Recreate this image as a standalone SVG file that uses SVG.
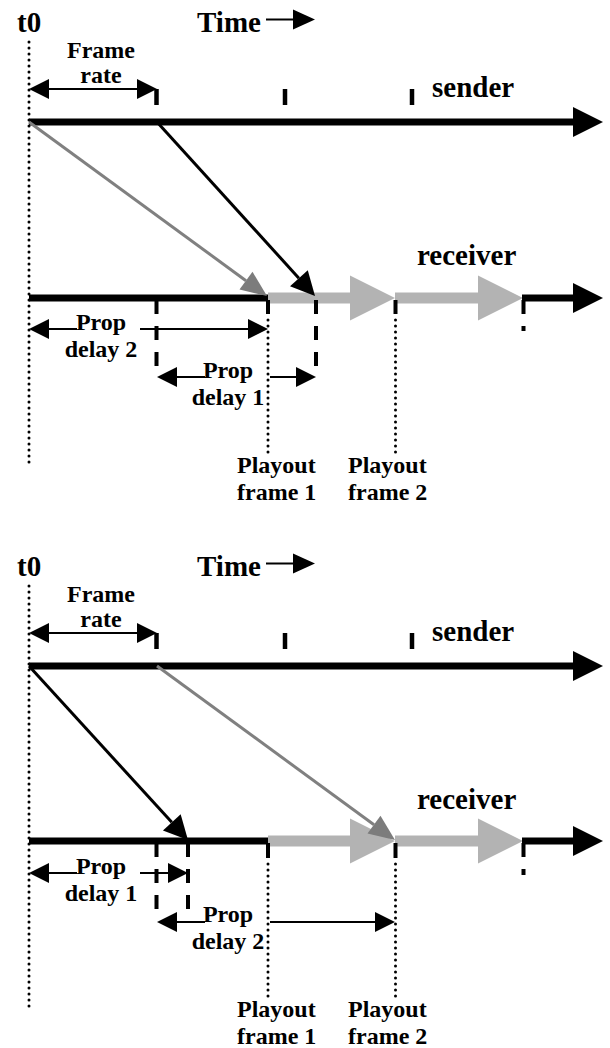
<svg xmlns="http://www.w3.org/2000/svg" width="610" height="1048" viewBox="0 0 610 1048">
<style>
text{font-family:"Liberation Serif","Times New Roman",serif;font-weight:bold;fill:#000}
.big{font-size:29px}
.sm{font-size:24px}
.mid{text-anchor:middle}
.axis{stroke:#000;stroke-width:7;fill:none}
.bar{stroke:#b3b3b3;stroke-width:11;fill:none}
.tick{stroke:#000;stroke-width:4.5;fill:none}
.dash{stroke:#000;stroke-width:4;fill:none;stroke-dasharray:14 12}
.solid4{stroke:#000;stroke-width:4;fill:none}
.dot{stroke:#000;stroke-width:3;fill:none;stroke-dasharray:0 6;stroke-linecap:round}
.dim{stroke:#000;stroke-width:2;fill:none}
.dk{stroke:#000;stroke-width:3;fill:none}
.gr{stroke:#808080;stroke-width:3;fill:none}
</style>
<defs>
<marker id="ah-axis" markerUnits="userSpaceOnUse" markerWidth="30" markerHeight="30" refX="0" refY="15" orient="auto" overflow="visible"><path d="M0,0 L30,15 L0,30 z" fill="#000"/></marker>
<marker id="ah-dim" markerUnits="userSpaceOnUse" markerWidth="20" markerHeight="20" refX="0" refY="10" orient="auto-start-reverse" overflow="visible"><path d="M0,0 L20,10 L0,20 z" fill="#000"/></marker>
<marker id="ah-time" markerUnits="userSpaceOnUse" markerWidth="22" markerHeight="20" refX="0" refY="10" orient="auto" overflow="visible"><path d="M0,0 L22,10 L0,20 z" fill="#000"/></marker>
<marker id="ah-bar" markerUnits="userSpaceOnUse" markerWidth="45" markerHeight="45" refX="0" refY="22.5" orient="auto" overflow="visible"><path d="M0,0 L45,22.5 L0,45 z" fill="#b3b3b3"/></marker>
<marker id="ah-dk" markerUnits="userSpaceOnUse" markerWidth="24" markerHeight="24" refX="0" refY="12" orient="auto" overflow="visible"><path d="M0,0 L24,12 L0,24 z" fill="#000"/></marker>
<marker id="ah-gr" markerUnits="userSpaceOnUse" markerWidth="26" markerHeight="22" refX="0" refY="11" orient="auto" overflow="visible"><path d="M0,0 L26,11 L0,22 z" fill="#7c7c7c"/></marker>
</defs>

<!-- ===== Top panel ===== -->
<g id="top-panel">
  <g id="t0-top">
    <text class="big" x="17" y="31.5">t0</text>
    <line class="dot" x1="29" y1="42" x2="29" y2="465"/>
  </g>
  <g id="time-top">
    <text class="big" x="197" y="32">Time</text>
    <line class="dim" x1="266" y1="19.5" x2="293" y2="19.5" marker-end="url(#ah-time)"/>
  </g>
  <g id="sender-top">
    <line class="axis" x1="29" y1="122" x2="573" y2="122" marker-end="url(#ah-axis)"/>
    <line class="tick" x1="156.5" y1="89" x2="156.5" y2="105"/>
    <line class="tick" x1="285" y1="89" x2="285" y2="105"/>
    <line class="tick" x1="412" y1="89" x2="412" y2="105"/>
    <text class="big" x="432" y="97">sender</text>
  </g>
  <g id="frame-rate-top">
    <line class="dim" x1="49" y1="89" x2="137" y2="89" marker-start="url(#ah-dim)" marker-end="url(#ah-dim)"/>
    <text class="sm mid" x="101" y="58">Frame</text>
    <text class="sm mid" x="101" y="83">rate</text>
  </g>
  <g id="receiver-top">
    <line class="axis" x1="29" y1="298" x2="270" y2="298"/>
    <line class="bar" x1="268" y1="298" x2="350" y2="298" marker-end="url(#ah-bar)"/>
    <line class="bar" x1="395" y1="298" x2="478" y2="298" marker-end="url(#ah-bar)"/>
    <line class="axis" x1="522" y1="298" x2="573" y2="298" marker-end="url(#ah-axis)"/>
    <text class="big" x="417" y="265">receiver</text>
    <line class="dash" x1="156.5" y1="300" x2="156.5" y2="369"/>
    <line class="dash" x1="316" y1="300" x2="316" y2="369"/>
    <line class="dash" x1="523.5" y1="300" x2="523.5" y2="331"/>
    <line class="solid4" x1="268" y1="300" x2="268" y2="314"/>
    <line class="solid4" x1="395.5" y1="300" x2="395.5" y2="314"/>
    <line class="dot" x1="268" y1="320" x2="268" y2="458"/>
    <line class="dot" x1="395.5" y1="320" x2="395.5" y2="458"/>
  </g>
  <g id="prop-delay2-top">
    <line class="dim" x1="49" y1="329" x2="77" y2="329" marker-start="url(#ah-dim)"/>
    <line class="dim" x1="140" y1="329" x2="248" y2="329" marker-end="url(#ah-dim)"/>
    <text class="sm mid" x="101" y="330">Prop</text>
    <text class="sm mid" x="101" y="357">delay 2</text>
  </g>
  <g id="prop-delay1-top">
    <line class="dim" x1="177" y1="377" x2="205" y2="377" marker-start="url(#ah-dim)"/>
    <line class="dim" x1="270" y1="377" x2="296" y2="377" marker-end="url(#ah-dim)"/>
    <text class="sm mid" x="228" y="378">Prop</text>
    <text class="sm mid" x="228" y="405">delay 1</text>
  </g>
  <g id="playout1-top">
    <text class="sm" x="237" y="473">Playout</text>
    <text class="sm" x="237" y="500">frame 1</text>
  </g>
  <g id="playout2-top">
    <text class="sm" x="348" y="473">Playout</text>
    <text class="sm" x="348" y="500">frame 2</text>
  </g>
  <g id="connectors-top">
    <line class="gr" x1="29" y1="122" x2="246" y2="280.7" marker-end="url(#ah-gr)"/>
    <line class="dk" x1="157" y1="122" x2="298.9" y2="278.2" marker-end="url(#ah-dk)"/>
  </g>
</g>

<!-- ===== Bottom panel ===== -->
<g id="bottom-panel" transform="translate(0,544)">
  <g id="t0-bottom">
    <text class="big" x="17" y="31.5">t0</text>
    <line class="dot" x1="29" y1="42" x2="29" y2="466"/>
  </g>
  <g id="time-bottom">
    <text class="big" x="197" y="32">Time</text>
    <line class="dim" x1="266" y1="19.5" x2="293" y2="19.5" marker-end="url(#ah-time)"/>
  </g>
  <g id="sender-bottom">
    <line class="axis" x1="29" y1="122" x2="573" y2="122" marker-end="url(#ah-axis)"/>
    <line class="tick" x1="156.5" y1="89" x2="156.5" y2="105"/>
    <line class="tick" x1="285" y1="89" x2="285" y2="105"/>
    <line class="tick" x1="412" y1="89" x2="412" y2="105"/>
    <text class="big" x="432" y="97">sender</text>
  </g>
  <g id="frame-rate-bottom">
    <line class="dim" x1="49" y1="89" x2="137" y2="89" marker-start="url(#ah-dim)" marker-end="url(#ah-dim)"/>
    <text class="sm mid" x="101" y="58">Frame</text>
    <text class="sm mid" x="101" y="83">rate</text>
  </g>
  <g id="receiver-bottom">
    <line class="axis" x1="29" y1="297" x2="270" y2="297"/>
    <line class="bar" x1="268" y1="297" x2="350" y2="297" marker-end="url(#ah-bar)"/>
    <line class="bar" x1="395" y1="297" x2="478" y2="297" marker-end="url(#ah-bar)"/>
    <line class="axis" x1="522" y1="297" x2="573" y2="297" marker-end="url(#ah-axis)"/>
    <text class="big" x="417" y="265">receiver</text>
    <line class="dash" x1="156.5" y1="299" x2="156.5" y2="369"/>
    <line class="dash" x1="188" y1="299" x2="188" y2="369"/>
    <line class="dash" x1="523.5" y1="299" x2="523.5" y2="331"/>
    <line class="solid4" x1="268" y1="299" x2="268" y2="314"/>
    <line class="solid4" x1="395.5" y1="299" x2="395.5" y2="314"/>
    <line class="dot" x1="268" y1="320" x2="268" y2="458"/>
    <line class="dot" x1="395.5" y1="320" x2="395.5" y2="458"/>
  </g>
  <g id="prop-delay1-bottom">
    <line class="dim" x1="49" y1="329" x2="77" y2="329" marker-start="url(#ah-dim)"/>
    <line class="dim" x1="140" y1="329" x2="168" y2="329" marker-end="url(#ah-dim)"/>
    <text class="sm mid" x="101" y="330">Prop</text>
    <text class="sm mid" x="101" y="357">delay 1</text>
  </g>
  <g id="prop-delay2-bottom">
    <line class="dim" x1="177" y1="378" x2="205" y2="378" marker-start="url(#ah-dim)"/>
    <line class="dim" x1="270" y1="378" x2="375" y2="378" marker-end="url(#ah-dim)"/>
    <text class="sm mid" x="228" y="378">Prop</text>
    <text class="sm mid" x="228" y="405">delay 2</text>
  </g>
  <g id="playout1-bottom">
    <text class="sm" x="237" y="473">Playout</text>
    <text class="sm" x="237" y="500">frame 1</text>
  </g>
  <g id="playout2-bottom">
    <text class="sm" x="348" y="473">Playout</text>
    <text class="sm" x="348" y="500">frame 2</text>
  </g>
  <g id="connectors-bottom">
    <line class="dk" x1="29" y1="122" x2="171.8" y2="278.3" marker-end="url(#ah-dk)"/>
    <line class="gr" x1="157" y1="122" x2="374" y2="280.7" marker-end="url(#ah-gr)"/>
  </g>
</g>
</svg>
